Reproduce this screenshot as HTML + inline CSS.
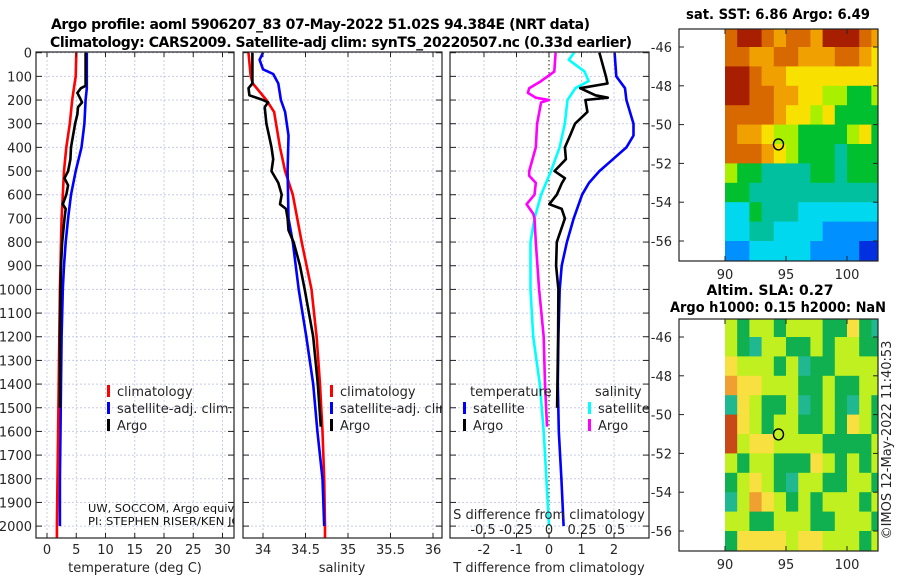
<!DOCTYPE html>
<html><head><meta charset="utf-8"><style>
body{margin:0;background:#fff}
svg{display:block;font-family:"DejaVu Sans","Liberation Sans",sans-serif}
.tk{font-size:13px;fill:#262626}
.tt{font-size:14px;font-weight:bold;fill:#000}
</style></head><body>
<svg id="chart" width="900" height="580" viewBox="0 0 900 580">
<defs>
<clipPath id="c1"><rect x="36" y="52" width="198" height="486"/></clipPath>
<clipPath id="c2"><rect x="243" y="52" width="199" height="486"/></clipPath>
<clipPath id="c3"><rect x="450" y="52" width="199" height="486"/></clipPath>
<clipPath id="m1"><rect x="679" y="29" width="199" height="232"/></clipPath>
<clipPath id="m2"><rect x="679" y="319" width="199" height="232"/></clipPath>
</defs>
<text class="tt" x="51" y="29" textLength="539">Argo profile: aoml 5906207_83 07-May-2022 51.02S 94.384E (NRT data)</text>
<text class="tt" x="50" y="47" textLength="582">Climatology: CARS2009. Satellite-adj clim: synTS_20220507.nc (0.33d earlier)</text>
<g id="root"></g>
</svg>
<script>
// ---- profile data ----
const tempClimDepth=[0,100,150,200,300,400,500,600,700,800,900,1000,1200,1400,1600,1800,2000,2050];
const tempClim=[5.0,4.9,4.6,4.3,3.9,3.3,2.9,2.7,2.5,2.4,2.3,2.2,2.1,2.0,1.9,1.8,1.7,1.7];
const tempSatDepth=[0,100,150,200,300,400,500,600,700,800,900,1000,1200,1400,1600,1800,2000];
const tempSat=[6.8,6.8,6.8,6.6,6.4,5.9,4.9,4.1,3.6,3.2,2.9,2.7,2.5,2.4,2.3,2.2,2.2];
const tempArgoDepth=[0,140,150,170,190,210,230,260,300,400,450,500,530,560,600,640,660,700,800,900,1000,1200,1400,1500];
const tempArgo=[6.6,6.6,5.8,5.2,5.6,6.0,5.3,5.2,4.8,4.1,4.0,3.6,3.0,3.6,3.3,2.7,3.2,3.0,2.6,2.4,2.3,2.2,2.2,2.2];
const salClimDepth=[0,100,130,200,250,400,500,600,800,1000,1200,1400,1600,1800,2000,2050];
const salClim=[33.83,33.855,33.88,34.04,34.13,34.2,34.26,34.35,34.455,34.57,34.63,34.67,34.7,34.72,34.73,34.73];
const salSatDepth=[0,30,70,90,130,200,250,350,500,700,800,1000,1200,1400,1600,1800,2000];
const salSat=[34.0,33.96,34.0,34.12,34.18,34.21,34.26,34.3,34.29,34.3,34.35,34.42,34.51,34.59,34.64,34.7,34.72];
const salArgoDepth=[0,130,150,180,200,210,230,300,350,400,450,500,550,600,640,660,700,750,800,900,1000,1200,1400,1580];
const salArgo=[33.875,33.875,33.83,33.84,34.0,34.06,34.02,34.04,34.07,34.1,34.12,34.1,34.18,34.22,34.2,34.27,34.29,34.3,34.36,34.435,34.49,34.59,34.645,34.68];
const dTsatDepth=[0,100,150,200,300,350,400,450,500,550,600,700,800,900,1000,1200,1400,1600,1800,2000];
const dTsat=[2.02,2.07,2.34,2.38,2.6,2.6,2.38,1.97,1.55,1.23,1.02,0.76,0.55,0.39,0.33,0.29,0.27,0.3,0.38,0.45];
const dTargoDepth=[0,100,130,150,180,190,200,250,300,350,400,450,500,530,550,600,640,660,700,800,900,1000,1200,1500];
const dTargo=[1.55,1.75,1.8,0.96,1.43,1.81,1.12,1.18,0.8,0.65,0.49,0.52,0.17,0.49,0.4,0.24,0.01,0.39,0.49,0.24,0.22,0.29,0.28,0.25];
const dSsatDepth=[0,30,80,120,150,200,300,400,500,600,700,800,1000,1200,1400,1600,1800,2000];
const dSsat=[0.19,0.15,0.27,0.30,0.2,0.14,0.12,0.08,0.015,-0.06,-0.11,-0.14,-0.14,-0.12,-0.07,-0.04,-0.02,0.0];
const dSargoDepth=[0,80,120,150,170,190,200,210,300,400,500,520,550,600,640,680,700,800,1000,1200,1400,1580];
const dSargo=[0.05,0.04,-0.06,-0.15,-0.16,-0.1,0.0,-0.06,-0.09,-0.1,-0.15,-0.15,-0.1,-0.11,-0.17,-0.12,-0.11,-0.1,-0.075,-0.04,-0.03,-0.015];
// ---- tick labels ----
const depthTicks=[0,100,200,300,400,500,600,700,800,900,1000,1100,1200,1300,1400,1500,1600,1700,1800,1900,2000];
const tempTicks=[0,5,10,15,20,25,30];
const salTicks=[34,34.5,35,35.5,36];
const dTTicks=[-2,-1,0,1,2];
const dSTicks=[-0.5,-0.25,0,0.25,0.5];
const latTicks=[-46,-48,-50,-52,-54,-56];
const lonTicks=[90,95,100];
// ---- map grids (lat rows -45..-56, lon cols 90..102) ----
const sstGrid=[
[9,10,10,9,8,9,9,8,10,10,10,9,8],
[9,9,8,8,9,9,8,8,8,9,9,8,7],
[10,10,9,8,8,7,7,7,7,7,7,7,7],
[10,10,9,9,8,8,7,7,6,6,5,5,6],
[9,9,9,9,8,7,7,6,7,5,5,5,5],
[9,8,8,7,6,6,5,5,5,5,6,7,5],
[9,9,9,8,7,6,5,5,5,4,5,5,5],
[6,5,5,4,4,4,4,5,5,4,5,5,5],
[5,5,4,4,4,4,4,4,4,4,4,4,4],
[3,3,5,4,4,4,3,3,3,3,3,3,3],
[3,3,4,4,3,3,3,3,2,2,2,2,2],
[2,2,3,3,3,3,3,2,2,2,2,1,1]];
const slaGrid=[
[6,5,6,6,5,6,6,6,5,5,7,5,4],
[6,5,4,6,6,5,5,6,5,6,6,5,5],
[7,6,6,6,5,6,4,5,5,6,6,6,6],
[8,7,7,6,6,6,5,5,6,5,5,6,6],
[4,7,6,5,5,6,4,5,6,5,4,6,5],
[9,7,6,5,6,6,5,5,6,5,7,6,5],
[9,6,7,7,6,6,6,6,5,5,5,5,6],
[6,5,6,6,5,5,5,7,6,5,6,5,6],
[5,6,7,6,5,4,6,6,5,5,6,6,5],
[4,6,8,7,6,5,6,5,6,6,6,5,6],
[6,6,5,5,6,6,6,5,5,6,6,6,5],
[5,7,7,7,7,6,7,7,6,6,6,5,6]];
const floatLon=94.384, floatLat=-51.02;

const NS="http://www.w3.org/2000/svg";
const root=document.getElementById('root');
function mk(tag,attrs,parent){const e=document.createElementNS(NS,tag);for(const k in attrs)e.setAttribute(k,attrs[k]);(parent||root).appendChild(e);return e;}
function txt(s,x,y,anchor,cls,parent){const t=mk('text',{x:x,y:y,'text-anchor':anchor||'start','class':cls||'tk'},parent);t.textContent=s;return t;}

const yD=d=>52.7+d*0.2367;
const xT=t=>47+t*5.85;
const xS=s=>263+(s-34)*85;
const xDT=t=>549+t*32.5;
const xDS=s=>549+s*132;
const Y0=52,Y1=538;
const panels=[[36,234,'c1'],[243,442,'c2'],[450,649,'c3']];

panels.forEach((p,i)=>{
  const g=mk('g',{});
  
  
  const gc=mk('g',{'clip-path':'url(#'+p[2]+')'},g);
  depthTicks.forEach(d=>{mk('line',{x1:p[0],x2:p[1],y1:yD(d),y2:yD(d),stroke:'#c8cce8','stroke-dasharray':'2,2','stroke-width':1},gc);
    mk('line',{x1:p[0],x2:p[0]+6,y1:yD(d),y2:yD(d),stroke:'#222'},g);
    mk('line',{x1:p[1]-6,x2:p[1],y1:yD(d),y2:yD(d),stroke:'#222'},g);});
  let xs,fx;
  if(i==0){xs=tempTicks;fx=xT;}else if(i==1){xs=salTicks;fx=xS;}else{xs=dTTicks;fx=xDT;}
  xs.forEach(v=>{const x=fx(v);
    if(!(i==2&&v==0))mk('line',{x1:x,x2:x,y1:Y0,y2:Y1,stroke:'#c8cce8','stroke-dasharray':'2,2'},gc);
    mk('line',{x1:x,x2:x,y1:Y1,y2:Y1-5,stroke:'#222'},g);mk('line',{x1:x,x2:x,y1:Y0,y2:Y0+5,stroke:'#222'},g);
    const lt=txt(String(v),x,554,'middle','tk',g);
    
    });
  p.push(gc,g);
});
depthTicks.forEach(d=>{const t=txt(String(d),32,yD(d)+5,'end');
  
  });
// zero dotted line panel3
mk('line',{x1:xDT(0),x2:xDT(0),y1:Y0,y2:Y1,stroke:'#555533','stroke-dasharray':'1.5,2.5','stroke-width':1.3},panels[2][3]);

function series(gc,depths,vals,fx,color,name){
  const pts=depths.map((d,i)=>fx(vals[i]).toFixed(1)+','+yD(d).toFixed(1)).join(' ');
  const l=mk('polyline',{points:pts,fill:'none',stroke:color,'stroke-width':2.6,'stroke-linejoin':'round'},gc);
  
  
}
const g1=panels[0][3],g2=panels[1][3],g3=panels[2][3];
series(g1,tempSatDepth,tempSat,xT,'#0000ff','temp-satellite-line');
series(g1,tempClimDepth,tempClim,xT,'#ff0000','temp-climatology-line');
series(g1,tempArgoDepth,tempArgo,xT,'#000','temp-argo-line');
series(g2,salClimDepth,salClim,xS,'#ff0000','salinity-climatology-line');
series(g2,salSatDepth,salSat,xS,'#0000ff','salinity-satellite-line');
series(g2,salArgoDepth,salArgo,xS,'#000','salinity-argo-line');
series(g3,dTsatDepth,dTsat,xDT,'#0000ff','tdiff-satellite-line');
series(g3,dSsatDepth,dSsat,xDS,'#00ffff','sdiff-satellite-line');
series(g3,dSargoDepth,dSargo,xDS,'#ff00ff','sdiff-argo-line');
series(g3,dTargoDepth,dTargo,xDT,'#000','tdiff-argo-line');

// panel frames
panels.forEach(p=>mk('rect',{x:p[0],y:Y0,width:p[1]-p[0],height:Y1-Y0,fill:'none',stroke:'#222','stroke-width':1.2},p[4]));

// legends
function leg(g,x,y,color,label,name){const e=mk('g',{},g);
  
  
  mk('rect',{x:x,y:y-11,width:3,height:12,fill:color},e);txt(label,x+10,y,'start','tk',e);}
leg(g1,107,396,'#ff0000','climatology','legend-climatology');
leg(g1,107,413,'#0000ff','satellite-adj. clim.','legend-satellite');
leg(g1,107,430,'#000','Argo','legend-argo');
leg(g2,330,396,'#ff0000','climatology','legend-climatology-2');
leg(g2,330,413,'#0000ff','satellite-adj. clim.','legend-satellite-2');
leg(g2,330,430,'#000','Argo','legend-argo-2');
txt('temperature',470,396,'start','tk',g3);
txt('salinity',595,396,'start','tk',g3);
leg(g3,463,413,'#0000ff','satellite','legend-t-satellite');
leg(g3,463,430,'#000','Argo','legend-t-argo');
leg(g3,588,413,'#00ffff','satellite','legend-s-satellite');
leg(g3,588,430,'#ff00ff','Argo','legend-s-argo');
const note=mk('g',{},g1);


mk('text',{x:88,y:512,'font-size':'11px',fill:'#111',textLength:'175',lengthAdjust:'spacingAndGlyphs'},note).textContent='UW, SOCCOM, Argo equivalent';
mk('text',{x:88,y:525,'font-size':'11px',fill:'#111',textLength:'195',lengthAdjust:'spacingAndGlyphs'},note).textContent='PI: STEPHEN RISER/KEN JOHNSON';
txt('S difference from climatology',549,519,'middle','tk',g3);
dSTicks.forEach(v=>{const t=txt(String(v),xDS(v),534,'middle','tk',g3);
  
  });
txt('temperature (deg C)',135,572,'middle');
txt('salinity',342,572,'middle');
txt('T difference from climatology',549,572,'middle');

// maps
const sstColors=['#00008f','#0030e0','#0090ff','#00d8f0','#00c0a0','#00c030','#a8f000','#f8e000','#f0a000','#d86800','#a81e00'];
const slaColors=['#00008f','#0030e0','#0090ff','#30d8d0','#20b890','#10b050','#c0f020','#f8e040','#f0a030','#c84818','#a81e00'];
const xL=lon=>725+(lon-90)*12.2;
const yL1=lat=>47+(-46-lat)*19.4;
function drawMap(grid,colors,top,clip,name,title1,title2){
  const g=mk('g',{});
  
  
  const yl=lat=>yL1(lat)+top-29;
  const gc=mk('g',{'clip-path':'url(#'+clip+')'},g);
  grid.forEach((row,r)=>row.forEach((v,c)=>{
    const cell=mk('rect',{x:xL(90+c),y:yl(-45-r),width:12.8,height:20,fill:colors[v]},gc);
    
    
  }));
  mk('ellipse',{cx:xL(floatLon),cy:yl(floatLat),rx:5,ry:5.5,fill:'none',stroke:'#000','stroke-width':1.4},g);
  mk('rect',{x:679,y:top,width:199,height:232,fill:'none',stroke:'#222','stroke-width':1.2},g);
  latTicks.forEach(l=>{const y=yl(l);mk('line',{x1:679,x2:684,y1:y,y2:y,stroke:'#222'},g);mk('line',{x1:873,x2:878,y1:y,y2:y,stroke:'#222'},g);
    txt(String(l),672,y+5,'end','tk',g);});
  lonTicks.forEach(l=>{const x=xL(l);mk('line',{x1:x,x2:x,y1:top+232,y2:top+227,stroke:'#222'},g);mk('line',{x1:x,x2:x,y1:top,y2:top+5,stroke:'#222'},g);
    txt(String(l),x,top+250,'middle','tk',g);});
  if(title2){txt(title1,770,top-24,'middle','tt',g);
    const t2=txt(title2,778,top-7,'middle','tt',g);t2.setAttribute('textLength','216');t2.setAttribute('lengthAdjust','spacingAndGlyphs');}
  else {const t1=txt(title1,778,top-10,'middle','tt',g);t1.setAttribute('textLength','184');t1.setAttribute('lengthAdjust','spacingAndGlyphs');}
}
drawMap(sstGrid,sstColors,29,'m1','sst-map','sat. SST: 6.86 Argo: 6.49');
drawMap(slaGrid,slaColors,319,'m2','sla-map','Altim. SLA: 0.27','Argo h1000: 0.15 h2000: NaN');
const st=txt('©IMOS 12-May-2022 11:40:53',0,0,'middle');
st.setAttribute('transform','translate(891,440) rotate(-90)');


</script>
</body></html>
